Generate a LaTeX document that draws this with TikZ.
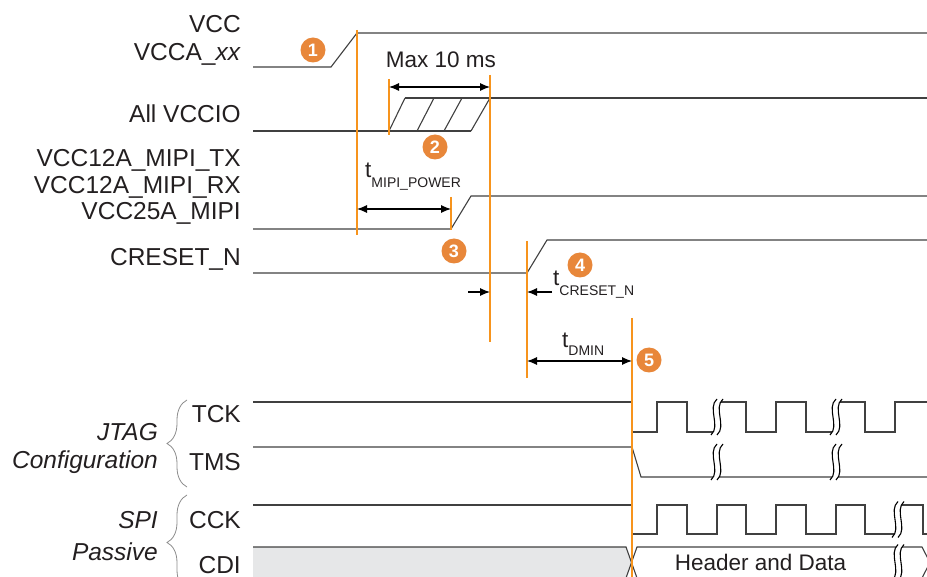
\documentclass[tikz,border=0pt]{standalone}
\usepackage{fontspec}
\setmainfont{Liberation Sans}
\usetikzlibrary{arrows.meta,decorations.pathreplacing}
\definecolor{sig}{HTML}{404040}
\definecolor{org}{HTML}{F7941D}
\definecolor{circ}{HTML}{E8873A}
\definecolor{txt}{HTML}{231F20}
\definecolor{busgray}{HTML}{E6E7E8}
\definecolor{brc}{HTML}{8C8C8C}
\begin{document}
\begin{tikzpicture}[x=1pt,y=-1pt,
  sigline/.style={draw=sig,line width=1.1pt,line join=miter},
  orgline/.style={draw=org,line width=1.8pt},
  lbl/.style={text=txt,font=\fontsize{24.5}{28}\selectfont,anchor=base east,inner sep=0pt},
  inlbl/.style={text=txt,font=\fontsize{22.5}{26}\selectfont,inner sep=0pt},
  num/.style={circle,fill=circ,text=white,font=\fontsize{18}{18}\selectfont\bfseries,inner sep=0pt,minimum size=25pt},
  dimarrow/.style={draw=black,line width=1.1pt,{Latex[length=10pt,width=8pt]}-{Latex[length=10pt,width=8pt]}},
  onearrow/.style={draw=black,line width=1.1pt,-{Latex[length=10pt,width=8pt]}},
  bracestyle/.style={draw=brc,line width=0.8pt,decorate,decoration={brace,amplitude=20pt}},
  brk/.pic={
    \fill[white] (3,-18) .. controls (-7,-9) and (7,9) .. (-3,18) -- (3,18) .. controls (13,9) and (-1,-9) .. (9,-18) -- cycle;
    \draw[black,line width=1.1pt] (3,-18) .. controls (-7,-9) and (7,9) .. (-3,18);
    \draw[black,line width=1.1pt] (9,-18) .. controls (-1,-9) and (13,9) .. (3,18);
  }
]
\useasboundingbox (0,0) rectangle (927,577);

% ---- labels ----
\node[lbl] (lVCC) at (241,33) {VCC};
\node[lbl] (lVCCA) at (241,61) {VCCA\_\textit{xx}};
\node[lbl] (lVCCIO) at (241,123) {All VCCIO};
\node[lbl] (lTX) at (241,167) {VCC12A\_MIPI\_TX};
\node[lbl] (lRX) at (241,194) {VCC12A\_MIPI\_RX};
\node[lbl] (l25) at (241,220) {VCC25A\_MIPI};
\node[lbl] (lCR) at (241,266) {CRESET\_N};
\node[lbl] (lTCK) at (241,423) {TCK};
\node[lbl] (lTMS) at (241,471) {TMS};
\node[lbl] (lCCK) at (241,528) {CCK};
\node[lbl] (lCDI) at (241,573) {CDI};
\node[lbl,font=\fontsize{24.5}{28}\selectfont\itshape] (lJTAG) at (158,440) {JTAG};
\node[lbl,font=\fontsize{24.5}{28}\selectfont\itshape] (lConf) at (158,468) {Configuration};
\node[lbl,font=\fontsize{24.5}{28}\selectfont\itshape] (lSPI) at (158,528) {SPI};
\node[lbl,font=\fontsize{24.5}{28}\selectfont\itshape] (lPas) at (158,560) {Passive};

% ---- braces ----
\draw[bracestyle] (187,487) -- (187,400);
\draw[bracestyle] (187,590) -- (187,495);

% ---- signals ----
\draw[sigline] (253,67) -- (331,67) -- (357,33) -- (927,33);
\draw[sigline] (253,131) -- (471,131);
\draw[sigline] (405,98) -- (927,98);
\draw[sigline] (389,131) -- (405,98);
\draw[sigline] (417,131) -- (434,98);
\draw[sigline] (444,131) -- (462,98);
\draw[sigline] (471,131) -- (490,98);
\draw[sigline] (253,229) -- (451,229) -- (471,196) -- (927,196);
\draw[sigline] (253,273) -- (527,273) -- (547,240) -- (927,240);

\draw[sigline] (253,402) -- (632,402) -- (632,432) -- (657,432) -- (657,402) -- (687,402) -- (687,432)
  -- (717,432) -- (717,402) -- (746,402) -- (746,432) -- (776,432) -- (776,402) -- (806,402) -- (806,432)
  -- (836,432) -- (836,402) -- (865,402) -- (865,432) -- (895,432) -- (895,402) -- (927,402);
\draw[sigline] (253,447) -- (632,447) -- (641,477) -- (927,477);
\draw[sigline] (253,505) -- (632,505) -- (632,534) -- (657,534) -- (657,505) -- (687,505) -- (687,534)
  -- (717,534) -- (717,505) -- (746,505) -- (746,534) -- (776,534) -- (776,505) -- (806,505) -- (806,534)
  -- (836,534) -- (836,505) -- (865,505) -- (865,534) -- (898,534) -- (898,505) -- (923,505) -- (923,534) -- (927,534);

\fill[busgray] (253,547) -- (626,547) -- (631.5,562.5) -- (626,578) -- (253,578) -- cycle;
\draw[sigline] (253,547) -- (626,547) -- (637,578) -- (922,578) -- (930,562.5) -- (922,547) -- (637,547) -- (626,578) -- (253,578);
\node[inlbl,anchor=base] (hd) at (760.5,570) {Header and Data};

% ---- breaks ----
\pic at (714,417) {brk};
\pic at (833,417) {brk};
\pic at (714,462) {brk};
\pic at (833,462) {brk};
\pic at (895,519.5) {brk};
\pic at (895,562.5) {brk};

% ---- orange markers ----
\coordinate (o1t) at (357,30);  \coordinate (o1b) at (357,235);
\coordinate (o2t) at (389,79);  \coordinate (o2b) at (389,135);
\coordinate (o3t) at (490,75);  \coordinate (o3b) at (490,342);
\coordinate (o4t) at (451,197); \coordinate (o4b) at (451,230);
\coordinate (o5t) at (527,241); \coordinate (o5b) at (527,378);
\coordinate (o6t) at (632,318); \coordinate (o6b) at (632,580);
\draw[orgline] (o1t) -- (o1b);
\draw[orgline] (o2t) -- (o2b);
\draw[orgline] (o3t) -- (o3b);
\draw[orgline] (o4t) -- (o4b);
\draw[orgline] (o5t) -- (o5b);
\draw[orgline] (o6t) -- (o6b);

% ---- dimension arrows ----
\coordinate (a1l) at (389,87);  \coordinate (a1r) at (490,87);
\coordinate (a2l) at (357,209); \coordinate (a2r) at (451,209);
\coordinate (a3s) at (468,292); \coordinate (a3e) at (490,292);
\coordinate (a4s) at (552,292); \coordinate (a4e) at (527,292);
\coordinate (a5l) at (527,361); \coordinate (a5r) at (632,361);
\draw[dimarrow] (a1l) -- (a1r);
\draw[dimarrow] (a2l) -- (a2r);
\draw[onearrow] (a3s) -- (a3e);
\draw[onearrow] (a4s) -- (a4e);
\draw[dimarrow] (a5l) -- (a5r);

\node[inlbl,anchor=base] (max) at (441,68) {Max 10 ms};
\node[inlbl,anchor=base west] (tmp) at (365,178) {t\raisebox{-10pt}{\fontsize{14}{14}\selectfont MIPI\_POWER}};
\node[inlbl,anchor=base west] (tcr) at (553,286) {t\raisebox{-10pt}{\fontsize{14}{14}\selectfont CRESET\_N}};
\node[inlbl,anchor=base west] (tdm) at (562,348) {t\raisebox{-8pt}{\fontsize{14}{14}\selectfont DMIN}};

% ---- numbered markers ----
\node[num] (n1) at (313,50) {1};
\node[num] (n2) at (435,147) {2};
\node[num] (n3) at (454,251) {3};
\node[num] (n4) at (580,265) {4};
\node[num] (n5) at (649,360) {5};
\end{tikzpicture}
\end{document}
